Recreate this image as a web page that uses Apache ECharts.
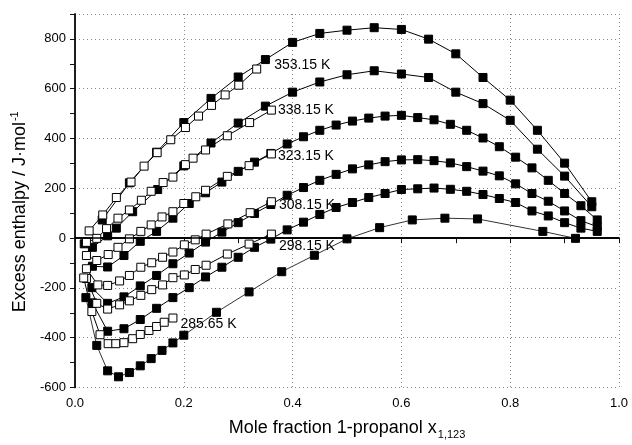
<!DOCTYPE html>
<html>
<head>
<meta charset="utf-8">
<script src="https://cdn.jsdelivr.net/npm/echarts@6/dist/echarts.min.js"></script>
<style>
html, body { margin: 0; padding: 0; background: #fff; }
#main { width: 632px; height: 445px; }
</style>
</head>
<body>
<div id="main"></div>
<script>
// filled squares (full range) and open squares (dilute end), one pair per isotherm
var f353 = [[0.05,73],[0.10,222],[0.15,345],[0.20,464],[0.25,561],[0.30,647],[0.35,717],[0.40,786],[0.45,822],[0.50,835],[0.55,845],[0.60,838],[0.65,799],[0.70,740],[0.75,645],[0.80,554],[0.85,433],[0.90,301],[0.95,146]];
var o353 = [[0.026,29],[0.051,93],[0.076,163],[0.103,225],[0.127,289],[0.151,343],[0.176,395],[0.203,444],[0.227,490],[0.251,533],[0.276,575],[0.301,614],[0.334,679]];

var f338 = [[0.017,-23],[0.032,-37],[0.06,9],[0.076,40],[0.106,106],[0.152,195],[0.20,290],[0.25,382],[0.30,462],[0.35,530],[0.40,586],[0.45,627],[0.50,656],[0.55,672],[0.60,659],[0.65,645],[0.70,586],[0.75,540],[0.80,473],[0.85,357],[0.90,249],[0.95,126]];
var o338 = [[0.021,-17],[0.04,-1],[0.058,38],[0.079,80],[0.10,113],[0.122,152],[0.14,188],[0.162,223],[0.18,245],[0.203,295],[0.217,321],[0.24,354],[0.28,411],[0.321,464],[0.361,514]];

var f323 = [[0.032,-113],[0.06,-116],[0.09,-70],[0.12,-13],[0.15,27],[0.18,80],[0.21,139],[0.24,182],[0.27,225],[0.30,268],[0.33,305],[0.36,340],[0.39,378],[0.42,407],[0.45,433],[0.48,454],[0.51,470],[0.54,482],[0.57,490],[0.60,493],[0.63,484],[0.66,475],[0.69,457],[0.72,433],[0.75,402],[0.78,367],[0.81,325],[0.84,282],[0.87,232],[0.90,179],[0.93,130],[0.96,73]];
var o323 = [[0.021,-70],[0.04,-90],[0.061,-66],[0.079,-37],[0.10,-3],[0.121,27],[0.14,53],[0.16,85],[0.18,106],[0.20,139],[0.222,166],[0.24,192],[0.28,248],[0.32,291],[0.361,338]];

var f308 = [[0.031,-199],[0.06,-262],[0.09,-236],[0.12,-192],[0.15,-150],[0.18,-103],[0.21,-60],[0.24,-16],[0.27,24],[0.30,62],[0.33,99],[0.36,135],[0.39,172],[0.42,203],[0.45,232],[0.48,256],[0.51,278],[0.54,294],[0.57,307],[0.60,314],[0.63,315],[0.66,311],[0.69,302],[0.72,287],[0.75,269],[0.78,250],[0.81,218],[0.84,179],[0.87,148],[0.90,109],[0.93,70],[0.96,46]];
var o308 = [[0.021,-123],[0.042,-188],[0.06,-190],[0.082,-172],[0.10,-150],[0.121,-117],[0.141,-99],[0.161,-77],[0.18,-56],[0.201,-27],[0.221,-7],[0.241,16],[0.281,57],[0.322,102],[0.361,146]];

var f298 = [[0.032,-260],[0.06,-374],[0.09,-364],[0.12,-327],[0.15,-282],[0.18,-239],[0.21,-199],[0.24,-156],[0.27,-117],[0.30,-77],[0.33,-37],[0.36,-4],[0.39,33],[0.42,64],[0.45,95],[0.48,123],[0.51,143],[0.54,163],[0.57,179],[0.60,195],[0.63,198],[0.66,201],[0.69,196],[0.72,188],[0.75,175],[0.78,159],[0.81,143],[0.84,109],[0.87,89],[0.90,62],[0.93,40],[0.96,27]];
var o298 = [[0.021,-162],[0.04,-262],[0.06,-285],[0.082,-268],[0.10,-252],[0.121,-230],[0.141,-207],[0.161,-188],[0.18,-159],[0.201,-148],[0.221,-126],[0.241,-109],[0.28,-64],[0.32,-24],[0.361,16]];

var f285 = [[0.02,-239],[0.04,-431],[0.06,-533],[0.08,-557],[0.10,-540],[0.12,-513],[0.14,-484],[0.16,-451],[0.18,-421],[0.20,-390],[0.26,-298],[0.32,-216],[0.38,-135],[0.44,-69],[0.50,-3],[0.56,42],[0.62,73],[0.68,80],[0.74,77],[0.86,27],[0.92,-1]];
var o285 = [[0.016,-160],[0.031,-295],[0.046,-388],[0.061,-424],[0.075,-424],[0.09,-420],[0.106,-404],[0.12,-387],[0.136,-371],[0.15,-355],[0.164,-338],[0.18,-321]];

var temps = ['353.15 K', '338.15 K', '323.15 K', '308.15 K', '298.15 K', '285.65 K'];

var FONT = 'Liberation Sans, Arial, sans-serif';

function curve(data, open, label, offset) {
    var pts = data.map(function (p) { return [p[0], p[1]]; });
    if (label) {
        var n = pts.length - 1;
        pts[n] = {
            value: pts[n],
            label: {
                show: true, formatter: label, position: 'right', distance: 2,
                offset: offset, fontSize: 14, color: '#000', fontFamily: FONT
            }
        };
    }
    return {
        type: 'line',
        data: pts,
        symbol: 'rect',
        symbolSize: 8,
        showAllSymbol: true,
        z: open ? 3 : 2,
        lineStyle: { color: '#000', width: 1 },
        itemStyle: { color: open ? '#fff' : '#000', borderColor: '#000', borderWidth: 1 },
        emphasis: { disabled: true }
    };
}

var series = [
    curve(f353, false), curve(o353, true, temps[0], [11, -4]),
    curve(f338, false), curve(o338, true, temps[1], [0, 0]),
    curve(f323, false), curve(o323, true, temps[2], [0, 2]),
    curve(f308, false), curve(o308, true, temps[3], [1, 3]),
    curve(f298, false), curve(o298, true, temps[4], [1, 12]),
    curve(f285, false), curve(o285, true, temps[5], [1, 6])
];
series[10].lineStyle.color = '#333';
series[10].markLine = {
    silent: true, symbol: 'none', animation: false,
    label: { show: false },
    lineStyle: { color: '#000', width: 1.5, type: 'solid' },
    data: [{ yAxis: 0 }]
};

var axisLine = { show: true, lineStyle: { color: '#111', width: 1.5 } };
var dotted = { show: true, lineStyle: { color: '#888', width: 1, type: [1, 3] } };

var myChart = echarts.init(document.getElementById('main'));
myChart.setOption({
    animation: false,
    textStyle: { fontFamily: FONT },
    grid: { left: 75, right: 13, top: 14, bottom: 54 },
    xAxis: [{
        type: 'value', position: 'bottom', min: 0, max: 1, interval: 0.2,
        axisLine: axisLine,
        axisTick: { show: true, inside: false, length: 5, lineStyle: { color: '#111' } },
        minorTick: { show: true, splitNumber: 2, length: 5, lineStyle: { color: '#111' } },
        axisLabel: { fontSize: 13, color: '#000', margin: 9, formatter: function (v) { return v.toFixed(1); } },
        splitLine: { show: false },
        name: '{a|Mole fraction 1-propanol x}{b|1,123}',
        nameLocation: 'middle', nameGap: 29,
        nameTextStyle: {
            rich: {
                a: { fontSize: 18, color: '#000', fontFamily: FONT, lineHeight: 24 },
                b: { fontSize: 11, color: '#000', fontFamily: FONT, padding: [12, 0, 0, 1] }
            }
        }
    }, {
        type: 'value', position: 'top', min: 0, max: 1, interval: 0.2,
        axisLine: axisLine,
        axisTick: { show: true, inside: true, length: 5, lineStyle: { color: '#111' } },
        minorTick: { show: true, splitNumber: 2, length: 5, lineStyle: { color: '#111' } },
        axisLabel: { show: false },
        splitLine: dotted
    }],
    yAxis: [{
        type: 'value', position: 'left', min: -600, max: 900, interval: 100,
        axisLine: axisLine,
        axisTick: { show: true, inside: false, length: 5, lineStyle: { color: '#111' } },
        axisLabel: {
            fontSize: 13, color: '#000', margin: 9,
            formatter: function (v) { return v % 200 === 0 ? String(v) : ''; }
        },
        splitLine: { show: false },
        name: '{a|Excess enthalpy / J·mol}{b|-1}',
        nameLocation: 'middle', nameGap: 43,
        nameTextStyle: {
            padding: [0, 22, 0, 0],
            rich: {
                a: { fontSize: 18, color: '#000', fontFamily: FONT, lineHeight: 24 },
                b: { fontSize: 11, color: '#000', fontFamily: FONT, padding: [0, 0, 10, 1] }
            }
        }
    }, {
        type: 'value', position: 'right', min: -600, max: 900, interval: 100,
        axisLine: axisLine,
        axisTick: { show: true, inside: true, length: 5, lineStyle: { color: '#111' } },
        axisLabel: { show: false },
        splitLine: { show: false }
    }, {
        type: 'value', position: 'left', min: -600, max: 900, interval: 200,
        axisLine: { show: false }, axisTick: { show: false }, axisLabel: { show: false },
        splitLine: dotted
    }],
    series: series
});
</script>
</body>
</html>
